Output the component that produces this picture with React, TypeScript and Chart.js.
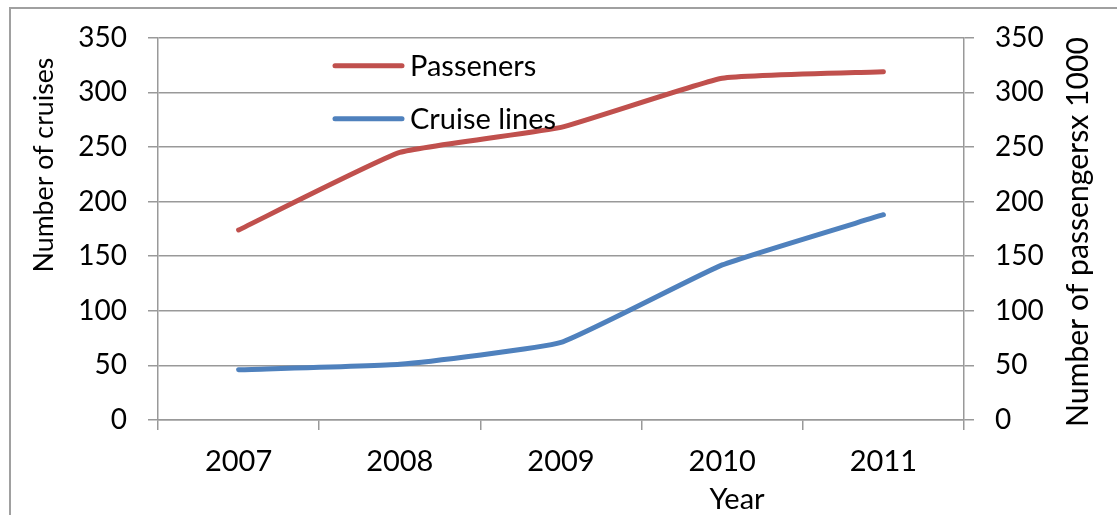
import React, { useEffect, useRef } from "react";
import { Chart, registerables } from "chart.js";

Chart.register(...registerables);

const years = ["2007", "2008", "2009", "2010", "2011"];
const passengers = [174, 245, 268, 313, 319];
const cruiseLines = [46, 51, 71, 142, 188];
const seriesNames = ["Passeners", "Cruise lines"];
const seriesColors = ["#C0504D", "#4F81BD"];
const yMin = 0;
const yMax = 350;
const yStep = 50;
const leftTitle = "Number of cruises";
const rightTitle = "Number of passengersx 1000";
const xTitle = "Year";

const FONT = "Lato, 'Open Sans', sans-serif";
const GRID = "#999999";

function fitFont(ctx: any, text: string, target: number) {
  ctx.font = `28px ${FONT}`;
  const w = ctx.measureText(text).width;
  const size = Math.max(20, Math.min(34, (28 * target) / w));
  ctx.font = `${size}px ${FONT}`;
}

const decorPlugin = {
  id: "decor",
  beforeDraw(chart: any) {
    const ctx = chart.ctx;
    ctx.save();
    ctx.fillStyle = "#ffffff";
    ctx.fillRect(0, 0, chart.width, chart.height);
    ctx.strokeStyle = "#a0a0a0";
    ctx.lineWidth = 2;
    ctx.strokeRect(10, 8, chart.width + 20, chart.height + 20);
    ctx.restore();
  },
  afterDraw(chart: any) {
    const ctx = chart.ctx;
    const ca = chart.chartArea;
    ctx.save();
    ctx.fillStyle = "#000";
    ctx.textAlign = "center";
    ctx.textBaseline = "alphabetic";
    // left title
    ctx.save();
    fitFont(ctx, leftTitle, 215);
    ctx.translate(53, 165);
    ctx.rotate(-Math.PI / 2);
    ctx.fillText(leftTitle, 0, 0);
    ctx.restore();
    // right title
    ctx.save();
    fitFont(ctx, rightTitle, 390);
    ctx.translate(1088, 232);
    ctx.rotate(-Math.PI / 2);
    ctx.fillText(rightTitle, 0, 0);
    ctx.restore();
    // x title
    ctx.font = `29px ${FONT}`;
    ctx.fillText(xTitle, 737, 509);

    // legend
    const ds = chart.data.datasets;
    const lx0 = ca.left + 177;
    const lx1 = ca.left + 244;
    const rows = [ca.top + 28, ca.top + 81];
    ds.forEach((d: any, i: number) => {
      const y = rows[i];
      ctx.strokeStyle = d.borderColor;
      ctx.lineWidth = 5;
      ctx.lineCap = "round";
      ctx.beginPath();
      ctx.moveTo(lx0, y);
      ctx.lineTo(lx1, y);
      ctx.stroke();
      ctx.fillStyle = "#000";
      ctx.textAlign = "left";
      ctx.textBaseline = "middle";
      ctx.font = `29px ${FONT}`;
      ctx.fillText(d.label, lx1 + 8, y + 1);
    });
    ctx.restore();
  },
};

export default function App() {
  const ref = useRef<HTMLCanvasElement | null>(null);
  useEffect(() => {
    if (!ref.current) return;
    const chart = new Chart(ref.current, {
      type: "line",
      data: {
        labels: years,
        datasets: [
          {
            label: seriesNames[0],
            data: passengers,
            borderColor: seriesColors[0],
            backgroundColor: seriesColors[0],
            borderWidth: 5,
            pointRadius: 0,
            tension: 0.12,
            borderCapStyle: "round",
            yAxisID: "y1",
          },
          {
            label: seriesNames[1],
            data: cruiseLines,
            borderColor: seriesColors[1],
            backgroundColor: seriesColors[1],
            borderWidth: 5,
            pointRadius: 0,
            tension: 0.12,
            borderCapStyle: "round",
            yAxisID: "y",
          },
        ],
      },
      options: {
        animation: false,
        responsive: true,
        maintainAspectRatio: false,
        layout: { padding: { top: 35, left: 0, right: 0, bottom: 0 } },
        plugins: {
          legend: { display: false },
          tooltip: { enabled: false },
        },
        scales: {
          x: {
            offset: true,
            grid: {
              offset: true,
              drawOnChartArea: false,
              tickLength: 10,
              color: GRID,
              lineWidth: 1.5,
            },
            border: { display: true, color: GRID, width: 1.5 },
            ticks: {
              color: "#000",
              font: { family: FONT, size: 29 },
              padding: 14,
              maxRotation: 0,
            },
            afterFit: (s: any) => {
              s.height = 95;
            },
          },
          y: {
            position: "left",
            min: yMin,
            max: yMax,
            ticks: {
              stepSize: yStep,
              color: "#000",
              font: { family: FONT, size: 28 },
              padding: 21,
            },
            grid: { color: GRID, lineWidth: 1.5, tickLength: 10 },
            border: { display: true, color: GRID, width: 1.5 },
            afterFit: (s: any) => {
              s.width = 158;
            },
          },
          y1: {
            position: "right",
            min: yMin,
            max: yMax,
            ticks: {
              stepSize: yStep,
              color: "#000",
              font: { family: FONT, size: 28 },
              padding: 21,
            },
            grid: {
              drawOnChartArea: false,
              color: GRID,
              lineWidth: 1.5,
              tickLength: 10,
            },
            border: { display: true, color: GRID, width: 1.5 },
            afterFit: (s: any) => {
              s.width = 153;
            },
          },
        },
      },
      plugins: [decorPlugin],
    } as any);
    return () => chart.destroy();
  }, []);
  return (
    <div
      style={{
        position: "absolute",
        left: 0,
        top: 0,
        width: 1117,
        height: 515,
        background: "#fff",
      }}
    >
      <canvas ref={ref} />
    </div>
  );
}
